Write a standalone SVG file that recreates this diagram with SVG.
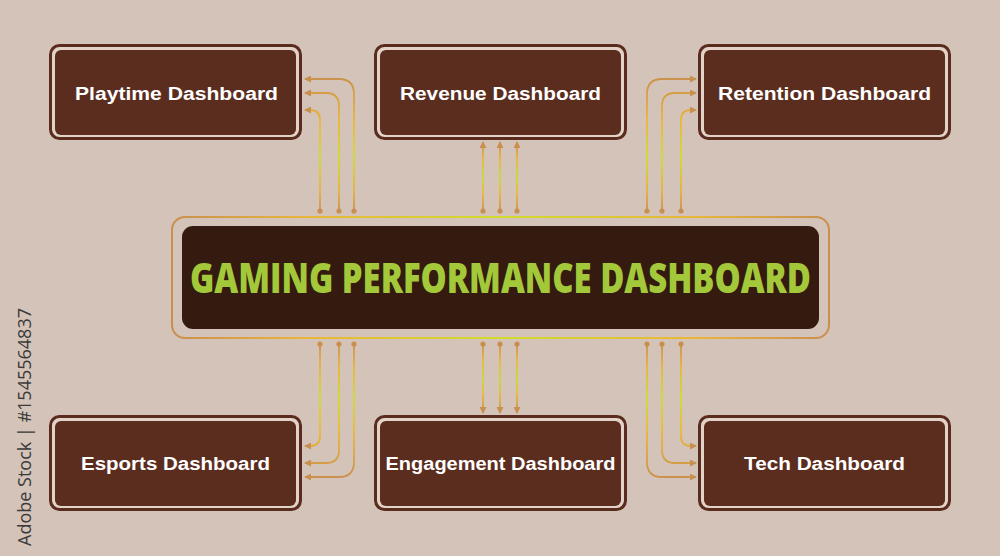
<svg xmlns="http://www.w3.org/2000/svg" width="1000" height="556" viewBox="0 0 1000 556">
<defs>
<style>
.frame{fill:#e2d2c7;stroke:#5a2c1d;stroke-width:3}
.inner{fill:#5b2d1f}
.lbl{font-family:"Liberation Sans",Arial,sans-serif;font-weight:bold;font-size:18px;fill:#ffffff;text-anchor:middle}
.c{fill:none;stroke-width:1.8;marker-end:url(#arr)}
.dot{fill:#c98f4e}
</style>
<marker id="arr" markerUnits="userSpaceOnUse" markerWidth="7" markerHeight="7" refX="6" refY="3.5" orient="auto">
<path d="M0,0 L7,3.5 L0,7 z" fill="#c98f4e"/>
</marker>
<linearGradient id="gTop" gradientUnits="userSpaceOnUse" x1="0" y1="75" x2="0" y2="212">
<stop offset="0" stop-color="#c98f4e"/><stop offset="0.35" stop-color="#eab838"/><stop offset="0.6" stop-color="#d3dc2e"/><stop offset="0.85" stop-color="#e6b23a"/><stop offset="1" stop-color="#c98f4e"/>
</linearGradient>
<linearGradient id="gTopMid" gradientUnits="userSpaceOnUse" x1="0" y1="143" x2="0" y2="211">
<stop offset="0" stop-color="#c98f4e"/><stop offset="0.25" stop-color="#eab838"/><stop offset="0.5" stop-color="#c8dc34"/><stop offset="0.75" stop-color="#eab838"/><stop offset="1" stop-color="#c98f4e"/>
</linearGradient>
<linearGradient id="gBot" gradientUnits="userSpaceOnUse" x1="0" y1="344" x2="0" y2="480">
<stop offset="0" stop-color="#c98f4e"/><stop offset="0.15" stop-color="#e6b23a"/><stop offset="0.4" stop-color="#d3dc2e"/><stop offset="0.65" stop-color="#eab838"/><stop offset="1" stop-color="#c98f4e"/>
</linearGradient>
<linearGradient id="gBotMid" gradientUnits="userSpaceOnUse" x1="0" y1="344" x2="0" y2="412">
<stop offset="0" stop-color="#c98f4e"/><stop offset="0.25" stop-color="#eab838"/><stop offset="0.5" stop-color="#c8dc34"/><stop offset="0.75" stop-color="#eab838"/><stop offset="1" stop-color="#c98f4e"/>
</linearGradient>
<linearGradient id="gFrame" gradientUnits="userSpaceOnUse" x1="172" y1="0" x2="829" y2="0">
<stop offset="0" stop-color="#c98f4e"/><stop offset="0.2" stop-color="#e8b53a"/><stop offset="0.5" stop-color="#d0dc2c"/><stop offset="0.8" stop-color="#e8b53a"/><stop offset="1" stop-color="#c98f4e"/>
</linearGradient>
</defs>
<rect x="0" y="0" width="1000" height="556" fill="#d4c3b8"/>
<text transform="translate(31,546) rotate(-90)" font-family="'Open Sans','Liberation Sans',sans-serif" font-size="19" fill="#3a3a3a" textLength="238" lengthAdjust="spacingAndGlyphs">Adobe Stock | #1545564837</text>

<g id="connectors">
<g stroke="url(#gTop)">
<path class="c" d="M354,211 V94 Q354,79 339,79 H305"/>
<path class="c" d="M339,211 V106 Q339,93 326,93 H305"/>
<path class="c" d="M320,211 V120 Q320,110 310,110 H305"/>
<path class="c" d="M647,211 V94 Q647,79 662,79 H696"/>
<path class="c" d="M662,211 V106 Q662,93 675,93 H696"/>
<path class="c" d="M681,211 V120 Q681,110 691,110 H696"/>
</g>
<g stroke="url(#gTopMid)">
<path class="c" d="M483,211 V142"/>
<path class="c" d="M500,211 V142"/>
<path class="c" d="M517,211 V142"/>
</g>
<g stroke="url(#gBot)">
<path class="c" d="M320,344 V436 Q320,446 310,446 H305"/>
<path class="c" d="M339,344 V450 Q339,463 326,463 H305"/>
<path class="c" d="M354,344 V462 Q354,477 339,477 H305"/>
<path class="c" d="M681,344 V436 Q681,446 691,446 H696"/>
<path class="c" d="M662,344 V450 Q662,463 675,463 H696"/>
<path class="c" d="M647,344 V462 Q647,477 662,477 H696"/>
</g>
<g stroke="url(#gBotMid)">
<path class="c" d="M483,344 V413"/>
<path class="c" d="M500,344 V413"/>
<path class="c" d="M517,344 V413"/>
</g>
<g class="dot">
<circle cx="320" cy="211" r="2.6"/><circle cx="339" cy="211" r="2.6"/><circle cx="354" cy="211" r="2.6"/>
<circle cx="483" cy="211" r="2.6"/><circle cx="500" cy="211" r="2.6"/><circle cx="517" cy="211" r="2.6"/>
<circle cx="647" cy="211" r="2.6"/><circle cx="662" cy="211" r="2.6"/><circle cx="681" cy="211" r="2.6"/>
<circle cx="320" cy="344" r="2.6"/><circle cx="339" cy="344" r="2.6"/><circle cx="354" cy="344" r="2.6"/>
<circle cx="483" cy="344" r="2.6"/><circle cx="500" cy="344" r="2.6"/><circle cx="517" cy="344" r="2.6"/>
<circle cx="647" cy="344" r="2.6"/><circle cx="662" cy="344" r="2.6"/><circle cx="681" cy="344" r="2.6"/>
</g>
</g>

<g id="center">
<rect x="172" y="217" width="657" height="121" rx="13" fill="none" stroke="url(#gFrame)" stroke-width="2"/>
<rect x="182" y="226" width="637" height="103" rx="11" fill="#351a10"/>
<text x="500.5" y="293" text-anchor="middle" font-family="'Open Sans','Liberation Sans',sans-serif" font-weight="800" font-size="42" fill="#a3c93a" textLength="621" lengthAdjust="spacingAndGlyphs">GAMING PERFORMANCE DASHBOARD</text>
</g>

<g id="playtime">
<rect class="frame" x="50.5" y="45.5" width="250" height="93" rx="9"/>
<rect class="inner" x="55" y="50" width="241" height="85" rx="6"/>
<text class="lbl" x="176.5" y="100" textLength="203" lengthAdjust="spacingAndGlyphs">Playtime Dashboard</text>
</g>
<g id="revenue">
<rect class="frame" x="375.5" y="45.5" width="250" height="93" rx="9"/>
<rect class="inner" x="380" y="50" width="241" height="85" rx="6"/>
<text class="lbl" x="500.5" y="100" textLength="201" lengthAdjust="spacingAndGlyphs">Revenue Dashboard</text>
</g>
<g id="retention">
<rect class="frame" x="699.5" y="45.5" width="250" height="93" rx="9"/>
<rect class="inner" x="704" y="50" width="241" height="85" rx="6"/>
<text class="lbl" x="824.5" y="100" textLength="213" lengthAdjust="spacingAndGlyphs">Retention Dashboard</text>
</g>
<g id="esports">
<rect class="frame" x="50.5" y="416.5" width="250" height="93" rx="9"/>
<rect class="inner" x="55" y="421" width="241" height="85" rx="6"/>
<text class="lbl" x="175.5" y="470" textLength="189" lengthAdjust="spacingAndGlyphs">Esports Dashboard</text>
</g>
<g id="engagement">
<rect class="frame" x="375.5" y="416.5" width="250" height="93" rx="9"/>
<rect class="inner" x="380" y="421" width="241" height="85" rx="6"/>
<text class="lbl" x="500.5" y="470" textLength="230" lengthAdjust="spacingAndGlyphs">Engagement Dashboard</text>
</g>
<g id="tech">
<rect class="frame" x="699.5" y="416.5" width="250" height="93" rx="9"/>
<rect class="inner" x="704" y="421" width="241" height="85" rx="6"/>
<text class="lbl" x="824.5" y="470" textLength="161" lengthAdjust="spacingAndGlyphs">Tech Dashboard</text>
</g>
</svg>
